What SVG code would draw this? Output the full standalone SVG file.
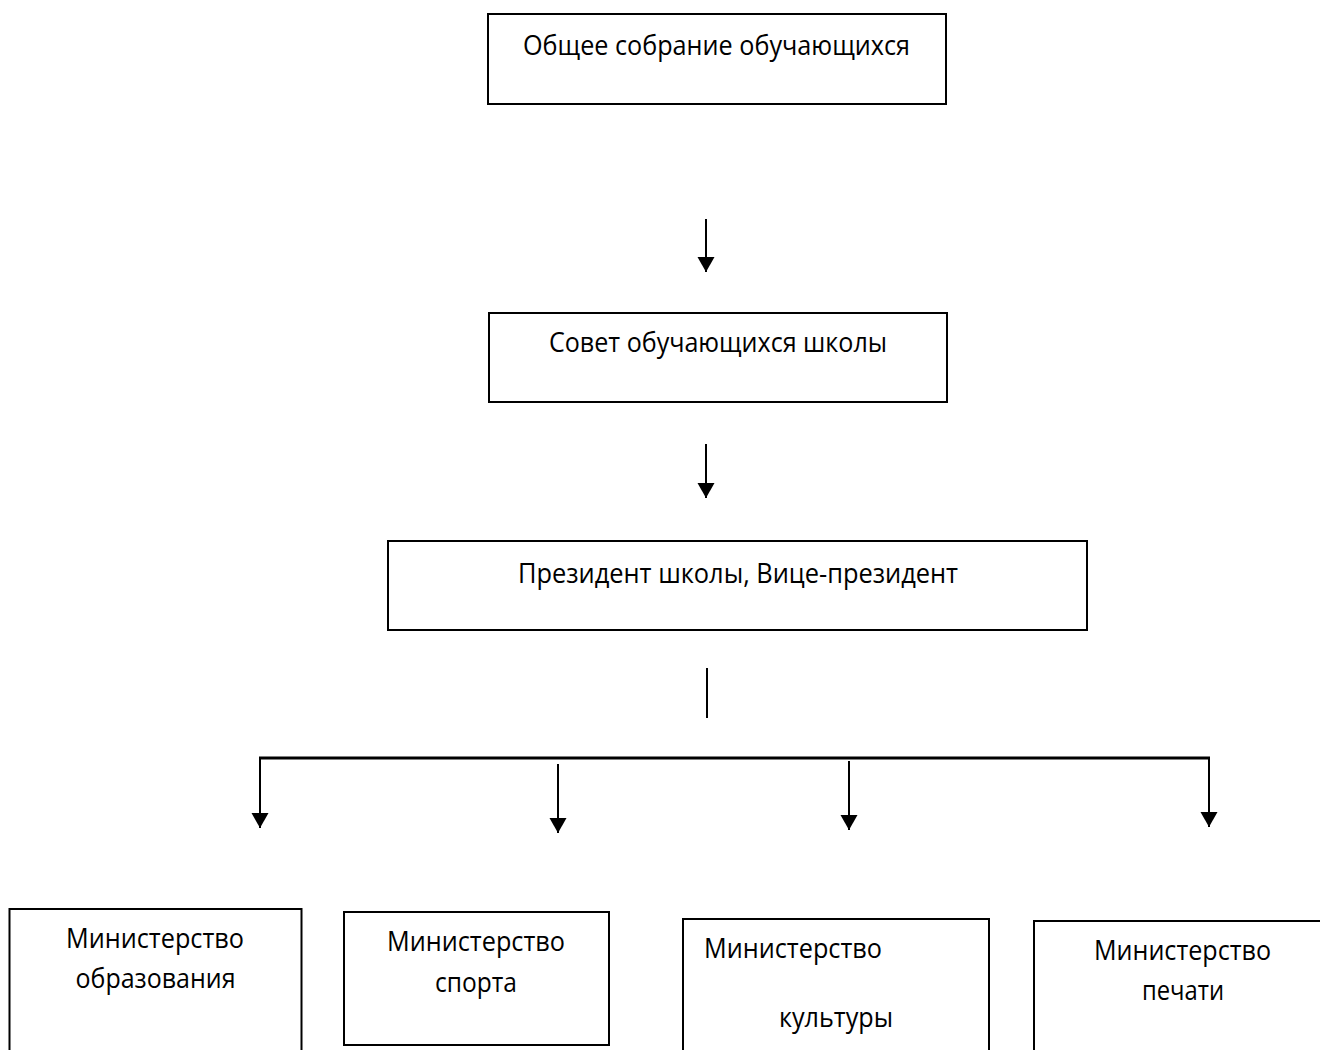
<svg xmlns="http://www.w3.org/2000/svg" width="1320" height="1050" viewBox="0 0 1320 1050">
<defs>
<style>
.box{fill:#fff;stroke:#000;stroke-width:2}
.t{font-family:"Open Sans","Liberation Sans",sans-serif;font-size:28px;fill:#000;text-anchor:middle}
.c{stroke:#000;stroke-width:2;fill:none}
.h{stroke:#000;stroke-width:3;fill:none}
</style>
<marker id="ah" markerUnits="userSpaceOnUse" markerWidth="16" markerHeight="18" viewBox="0 -9 16 18" refX="15" refY="0" orient="auto">
<path d="M0,-8.5 L15,0 L0,8.5 z" fill="#000"/>
</marker>
</defs>
<rect width="1320" height="1050" fill="#fff"/>
<g id="connectors">
<line class="c" x1="706" y1="219" x2="706" y2="272" marker-end="url(#ah)"/>
<line class="c" x1="706" y1="444" x2="706" y2="498" marker-end="url(#ah)"/>
<line class="c" x1="707" y1="668" x2="707" y2="718"/>
<line class="h" x1="259" y1="758" x2="1210" y2="758"/>
<line class="c" x1="260" y1="758" x2="260" y2="828" marker-end="url(#ah)"/>
<line class="c" x1="558" y1="764" x2="558" y2="833" marker-end="url(#ah)"/>
<line class="c" x1="849" y1="761" x2="849" y2="830" marker-end="url(#ah)"/>
<line class="c" x1="1209" y1="758" x2="1209" y2="827" marker-end="url(#ah)"/>
</g>
<g id="n1">
<rect class="box" x="488" y="14" width="458" height="90"/>
<text class="t" x="716.5" y="55" textLength="387" lengthAdjust="spacingAndGlyphs">Общее собрание обучающихся</text>
</g>
<g id="n2">
<rect class="box" x="489" y="313" width="458" height="89"/>
<text class="t" x="718" y="352" textLength="338" lengthAdjust="spacingAndGlyphs">Совет обучающихся школы</text>
</g>
<g id="n3">
<rect class="box" x="388" y="541" width="699" height="89"/>
<text class="t" x="738" y="583" textLength="440" lengthAdjust="spacingAndGlyphs">Президент школы, Вице-президент</text>
</g>
<g id="m1">
<rect class="box" x="9.5" y="909" width="292" height="170"/>
<text class="t" x="155" y="948" textLength="178" lengthAdjust="spacingAndGlyphs">Министерство</text>
<text class="t" x="155.5" y="988" textLength="160" lengthAdjust="spacingAndGlyphs">образования</text>
</g>
<g id="m2">
<rect class="box" x="344" y="912" width="265" height="133"/>
<text class="t" x="476" y="951" textLength="178" lengthAdjust="spacingAndGlyphs">Министерство</text>
<text class="t" x="476" y="992" textLength="82" lengthAdjust="spacingAndGlyphs">спорта</text>
</g>
<g id="m3">
<rect class="box" x="683" y="919" width="306" height="170"/>
<text class="t" x="793" y="958" textLength="178" lengthAdjust="spacingAndGlyphs">Министерство</text>
<text class="t" x="836" y="1027" textLength="114" lengthAdjust="spacingAndGlyphs">культуры</text>
</g>
<g id="m4">
<rect class="box" x="1034" y="921" width="320" height="170"/>
<text class="t" x="1182.5" y="960" textLength="177" lengthAdjust="spacingAndGlyphs">Министерство</text>
<text class="t" x="1183" y="1000" textLength="82" lengthAdjust="spacingAndGlyphs">печати</text>
</g>
</svg>
